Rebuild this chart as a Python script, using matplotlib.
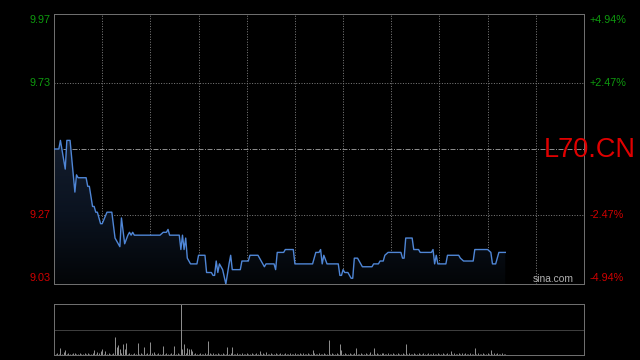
import matplotlib
matplotlib.use("Agg")
import matplotlib.pyplot as plt
import matplotlib.transforms as mtransforms
import numpy as np

# ---- data ----
prev_close = 9.50
y_min, y_max = 9.03, 9.97
left_ticks = [9.97, 9.73, 9.27, 9.03]
left_labels = ["9.97", "9.73", "9.27", "9.03"]
right_labels = ["+4.94%", "+2.47%", "-2.47%", "-4.94%"]
session_minutes = 330  # 9:30-12:00, 13:00-16:00
grid_minutes = [30, 60, 90, 120, 150, 180, 210, 240, 270, 300]

price_minutes = [0, 3, 4, 7, 8, 10, 13, 14, 15, 20, 21, 22, 24, 25, 26, 27, 29, 30,
                 33, 36, 38, 41, 42, 44, 46, 47, 48, 49, 50, 66, 68, 70, 71, 72,
                 78, 79, 80, 81, 82, 83, 85, 86, 89, 90, 94, 95, 98, 99, 100, 101,
                 102, 103, 104, 105, 107, 109, 110, 111, 116, 117, 121, 122, 127,
                 130, 131, 132, 137, 138, 139, 143, 144, 149, 150, 161, 163, 165,
                 166, 167, 168, 170, 177, 178, 179, 180, 181, 183, 185, 186, 187,
                 189, 192, 198, 199, 202, 203, 205, 206, 208, 216, 217, 218, 219,
                 223, 224, 227, 228, 235, 236, 237, 238, 239, 244, 245, 252, 253,
                 255, 261, 262, 270, 272, 273, 275, 277, 281]
price_values = [9.50, 9.50, 9.53, 9.43, 9.53, 9.53, 9.35, 9.41, 9.40, 9.40, 9.37, 9.37,
                9.30, 9.30, 9.28, 9.28, 9.24, 9.24, 9.28, 9.28, 9.19, 9.16, 9.26, 9.17,
                9.20, 9.21, 9.20, 9.21, 9.20, 9.20, 9.21, 9.21, 9.22, 9.20,
                9.20, 9.15, 9.20, 9.15, 9.19, 9.12, 9.10, 9.10, 9.10, 9.13, 9.13, 9.07,
                9.07, 9.06, 9.06, 9.11, 9.07, 9.10, 9.09, 9.08, 9.03, 9.10, 9.13, 9.08,
                9.08, 9.11, 9.11, 9.13, 9.13, 9.10, 9.09, 9.10, 9.10, 9.08, 9.14, 9.14,
                9.15, 9.15, 9.10, 9.10, 9.14, 9.14, 9.15, 9.10, 9.13, 9.10, 9.10, 9.06,
                9.06, 9.08, 9.07, 9.07, 9.05, 9.05, 9.12, 9.12, 9.09, 9.09, 9.10, 9.10,
                9.11, 9.11, 9.13, 9.14, 9.14, 9.12, 9.12, 9.19, 9.19, 9.15, 9.15, 9.14,
                9.14, 9.15, 9.10, 9.13, 9.10, 9.10, 9.13, 9.13, 9.12, 9.11, 9.11, 9.15,
                9.15, 9.14, 9.10, 9.10, 9.14, 9.14]

volumes = [
    8, 2, 3, 2, 14, 2, 6, 10, 2, 3, 2, 2, 3, 4, 2, 2, 3, 2, 2, 3,
    2, 3, 2, 2, 3, 10, 2, 6, 3, 8, 12, 2, 8, 2, 3, 2, 2, 3, 36, 16,
    20, 12, 3, 22, 12, 24, 2, 3, 2, 2, 3, 2, 24, 2, 3, 2, 16, 2, 3, 2,
    26, 3, 6, 2, 2, 3, 2, 2, 18, 2, 3, 2, 2, 3, 2, 18, 2, 3, 2, 100,
    12, 22, 3, 14, 12, 12, 8, 2, 3, 2, 2, 3, 2, 2, 3, 2, 28, 4, 2, 3,
    2, 2, 3, 2, 2, 3, 2, 2, 16, 2, 3, 16, 2, 2, 3, 2, 2, 3, 2, 2,
    3, 2, 2, 3, 2, 2, 3, 2, 8, 2, 3, 2, 6, 2, 2, 3, 2, 2, 3, 2,
    2, 3, 2, 2, 3, 2, 2, 3, 2, 2, 3, 2, 2, 4, 2, 3, 2, 2, 3, 2,
    2, 10, 3, 2, 2, 3, 2, 2, 3, 2, 2, 30, 2, 3, 2, 2, 3, 2, 22, 10,
    2, 3, 2, 2, 3, 2, 2, 3, 14, 2, 2, 3, 2, 2, 3, 2, 2, 6, 2, 14,
    2, 3, 2, 2, 3, 4, 2, 2, 3, 2, 2, 3, 2, 2, 3, 2, 2, 3, 2, 22,
    2, 3, 2, 2, 3, 2, 2, 3, 2, 2, 3, 2, 2, 3, 2, 2, 3, 2, 2, 3,
    2, 2, 3, 2, 2, 3, 2, 8, 2, 3, 2, 2, 3, 2, 4, 2, 3, 2, 2, 3,
    2, 2, 14, 2, 3, 2, 2, 3, 2, 2, 3, 2, 10, 2, 4, 2, 3, 2, 2, 3,
    2, 2]
volume_max = 100

# ---- style ----
GREEN = "#0e9a0e"
RED = "#d00000"
GRID = "#7a7a7a"
BORDER = "#6e6e6e"
LINE = "#4f86d6"
FONT = "Liberation Sans"
PX = 0.72  # one pixel in points at dpi 100

fig = plt.figure(figsize=(6.4, 3.6), dpi=100, facecolor="black")
W, H = 640, 360
ax = fig.add_axes([54 / W, (H - 284) / H, 530 / W, 270 / H], facecolor="black")
axv = fig.add_axes([54 / W, (H - 355) / H, 530 / W, 51 / H], facecolor="black")

# main panel
ax.set_xlim(0, session_minutes)
ax.set_ylim(y_min, y_max)
ax.set_xticks([])
ax.set_yticks([])
for s in ax.spines.values():
    s.set_color(BORDER)
    s.set_linewidth(PX)

for gm in grid_minutes:
    ax.axvline(gm, color=GRID, lw=PX, ls=(0, (1, 1.6)), zorder=1)
for gy in [9.73, 9.27]:
    ax.axhline(gy, color=GRID, lw=PX, ls=(0, (1, 1.6)), zorder=1)
ax.axhline(prev_close, color="#8a8a8a", lw=PX, ls=(0, (5, 1.5, 1, 1.5)), zorder=1)

# gradient fill under the line
xm = np.array(price_minutes, dtype=float)
yp = np.array(price_values)
poly = ax.fill_between(xm, yp, y_min, color="none", lw=0)
grad = np.linspace(0, 1, 256).reshape(-1, 1)
cmap = matplotlib.colors.LinearSegmentedColormap.from_list(
    "g", ["#030507", "#0b1320", "#131d2d"])
im = ax.imshow(grad, cmap=cmap, aspect="auto", origin="lower",
               extent=[0, session_minutes, y_min, max(price_values)],
               zorder=2, interpolation="bilinear")
path = poly.get_paths()[0]
im.set_clip_path(path, transform=ax.transData)
ax.set_xlim(0, session_minutes)
ax.set_ylim(y_min, y_max)

ax.plot(xm, yp, color=LINE, lw=1.0, zorder=3)

# labels
ytrans = ax.get_yaxis_transform()
offsets = [-6, 0, 0, 6]
for val, ll, rl, off in zip(left_ticks, left_labels, right_labels, offsets):
    col = GREEN if val > prev_close else RED
    tr = mtransforms.offset_copy(ytrans, fig=fig, y=off, units="dots")
    ax.text(-0.0057, val, ll, transform=tr, ha="right", va="center",
            color=col, fontsize=7.8, family=FONT)
    ax.text(1.0113, val, rl, transform=tr, ha="left", va="center",
            color=col, fontsize=7.8, family=FONT)

fig.text(544 / W, 1 - 150 / H, "L70.CN", ha="left", va="center",
         color="#e00000", fontsize=19.5, family=FONT, zorder=10)
fig.text(553 / W, 1 - 279 / H, "sina.com", ha="center", va="center",
         color="#b0b0b0", fontsize=7.4, family=FONT, zorder=10)

# volume panel
vm = np.arange(len(volumes))
axv.set_xlim(0, session_minutes)
axv.set_ylim(0, volume_max)
axv.set_xticks([])
axv.set_yticks([])
for k, s in axv.spines.items():
    s.set_color(BORDER)
    s.set_linewidth(PX)
axv.spines["top"].set_linestyle((0, (1, 1)))
axv.axhline(volume_max / 2, color=GRID, lw=PX, ls=(0, (1, 1)), zorder=1)
axv.vlines(vm, 0, volumes, color="#8c8c8c", lw=PX, zorder=2)

fig.savefig("out.png", dpi=100, facecolor="black")
